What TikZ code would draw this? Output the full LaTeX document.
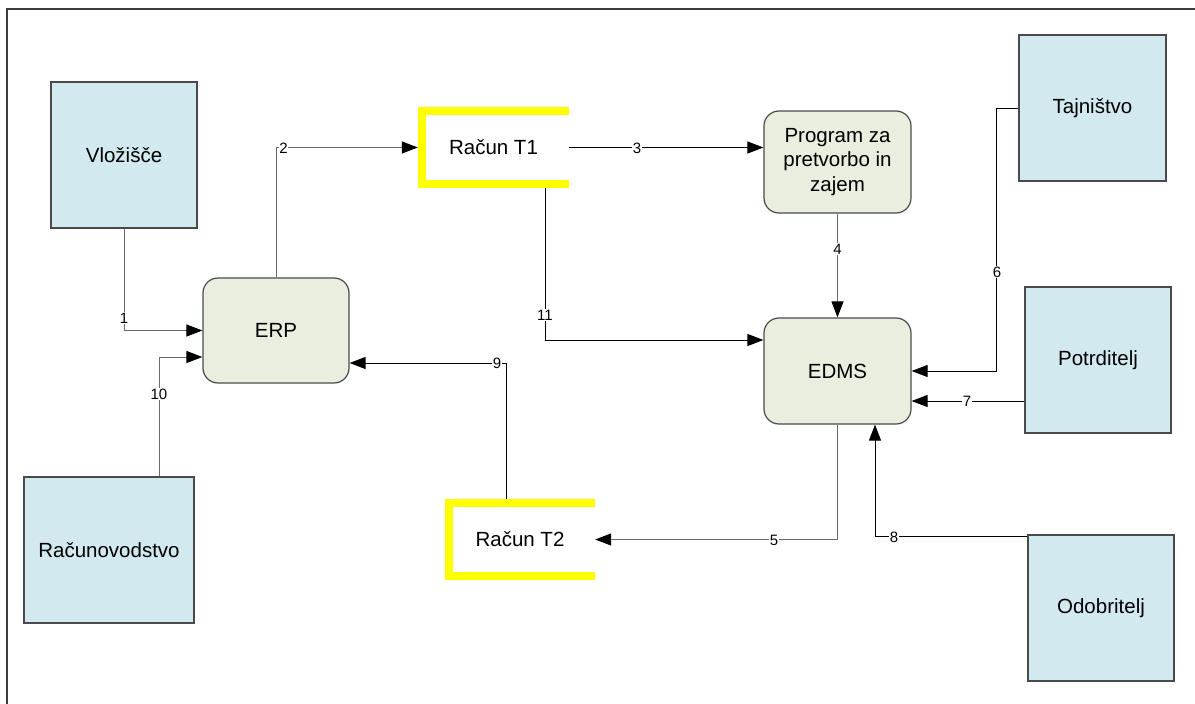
\documentclass[tikz,border=0pt]{standalone}
\usepackage{fontspec}
\setmainfont{Liberation Sans}
\usetikzlibrary{arrows.meta,calc}
\definecolor{boxblue}{HTML}{D2E9EF}
\definecolor{procgreen}{HTML}{EAEEDF}
\definecolor{bordergray}{HTML}{4A4A4A}
\definecolor{framegray}{HTML}{3C3C3C}
\definecolor{linegray}{HTML}{6A6A6A}
\definecolor{brackyellow}{HTML}{FFFF00}
\tikzset{
  party/.style={draw=bordergray, line width=1.2pt, fill=boxblue, minimum width=146pt, minimum height=146pt, inner sep=0pt, font=\fontsize{20.5}{24}\selectfont},
  proc/.style={draw=bordergray, line width=1.2pt, fill=procgreen, rounded corners=15pt, minimum width=147pt, minimum height=105pt, inner sep=0pt, align=center, font=\fontsize{20.5}{24.5}\selectfont},
  store/.style={minimum width=151pt, minimum height=81pt, inner sep=0pt, font=\fontsize{20.5}{24}\selectfont},
  bracket/.style={draw=brackyellow, line width=8pt},
  flow/.style={-{Triangle[length=16pt,width=12pt,color=black]}, line width=1pt, draw=black},
  flowgray/.style={flow, draw=linegray},
  lbl/.style={fill=white, inner sep=0.6pt, font=\fontsize{15}{17}\selectfont}
}
\begin{document}
\begin{tikzpicture}[x=1pt,y=-1pt]
\useasboundingbox (0,0) rectangle (1195,704);
% outer frame (only left and top visible)
\draw[framegray, line width=2pt] (7,712) -- (7,9) -- (1200,9);

% parties
\node[party] (vloz) at (124,155) {Vložišče};
\node[party, minimum width=170pt] (racv) at (109,550) {Računovodstvo};
\node[party, minimum width=147pt] (taj) at (1092.5,108) {Tajništvo};
\node[party] (pot) at (1098,360) {Potrditelj};
\node[party] (odo) at (1101,608) {Odobritelj};

% processes
\node[proc, minimum width=146pt] (erp) at (276,330.5) {ERP};
\node[proc, minimum height=102pt] (prog) at (837.5,162) {Program za\\pretvorbo in\\zajem};
\node[proc, minimum height=106pt] (edms) at (837.5,371) {EDMS};

% stores
\node[store] (rt1) at (493.5,147.5) {Račun T1};
\node[store, minimum width=150pt] (rt2) at (520,539.5) {Račun T2};
\draw[bracket] ($(rt1.north east)+(0,4)$) -- ($(rt1.north west)+(4,4)$) -- ($(rt1.south west)+(4,-4)$) -- ($(rt1.south east)+(0,-4)$);
\draw[bracket] ($(rt2.north east)+(0,4)$) -- ($(rt2.north west)+(4,4)$) -- ($(rt2.south west)+(4,-4)$) -- ($(rt2.south east)+(0,-4)$);

% connector coordinates
\coordinate (c10s) at ([xshift=50pt]racv.north);
\coordinate (c10e) at ([yshift=-26.5pt]erp.west);
\coordinate (c11s) at ([xshift=-24pt]rt1.south east);
\coordinate (c11e) at ([yshift=31pt]edms.west);
\coordinate (c7s) at ([yshift=-41pt]pot.west);
\coordinate (c8s) at ([yshift=-2pt]odo.north west);
\coordinate (c8e) at ([xshift=37.5pt]edms.south);
\coordinate (c9s) at ([xshift=-14pt]rt2.north);
\coordinate (c9e) at ([yshift=-32.5pt]erp.east);

% connectors
\draw[flowgray] (vloz.south) |- (erp.west);
\draw[flowgray] (erp.north) |- (rt1.west);
\draw[flow] (rt1.east) -- (rt1.east -| prog.west);
\draw[flowgray] (prog.south) -- (edms.north);
\draw[flowgray] (edms.south) |- (rt2.east);
\draw[flow] (taj.west) -- ++(-22,0) |- (edms.east);
\draw[flow] (c7s) -- (c7s -| edms.east);
\draw[flow] (c8s) -| (c8e);
\draw[flow] (c9s) |- (c9e);
\draw[flowgray] (c10s) |- (c10e);
\draw[flow] (c11s) |- (c11e);

% labels
\node[lbl] (l1) at (124,318) {1};
\node[lbl] (l2) at (283.5,148) {2};
\node[lbl] (l3) at (637,148) {3};
\node[lbl] (l4) at (837.5,249) {4};
\node[lbl] (l5) at (774,540) {5};
\node[lbl] (l6) at (997,272) {6};
\node[lbl] (l7) at (967,401) {7};
\node[lbl] (l8) at (894,537) {8};
\node[lbl] (l9) at (497,363) {9};
\node[lbl] (l10) at (159,394) {10};
\node[lbl] (l11) at (545,315) {11};
\end{tikzpicture}
\end{document}
